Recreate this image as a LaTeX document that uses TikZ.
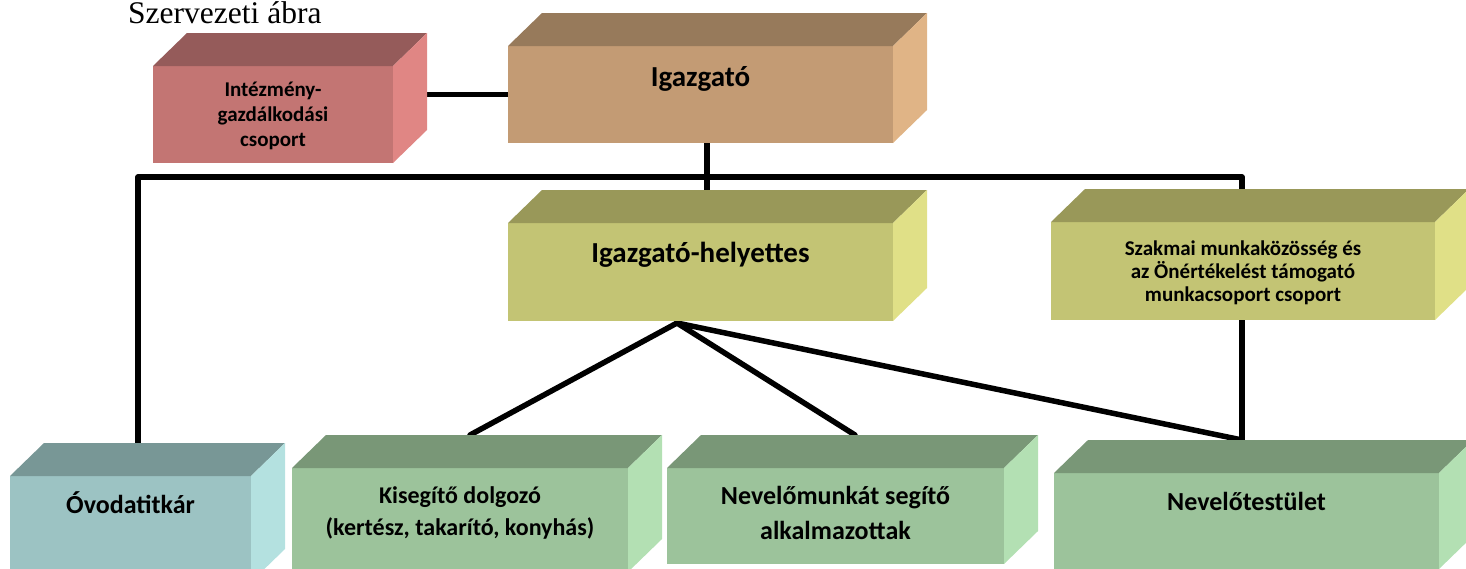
\documentclass[tikz,border=0pt]{standalone}
\usepackage{fontspec}
\setmainfont{Carlito}
\newfontfamily\titlefont{Liberation Serif}
\usetikzlibrary{calc,backgrounds}

\definecolor{redF}{RGB}{195,117,115}\definecolor{redT}{RGB}{149,91,90}\definecolor{redS}{RGB}{224,134,132}
\definecolor{brnF}{RGB}{195,155,116}\definecolor{brnT}{RGB}{151,122,91}\definecolor{brnS}{RGB}{224,180,134}
\definecolor{olvF}{RGB}{195,196,116}\definecolor{olvT}{RGB}{153,152,89}\definecolor{olvS}{RGB}{224,224,135}
\definecolor{cynF}{RGB}{156,195,195}\definecolor{cynT}{RGB}{120,151,150}\definecolor{cynS}{RGB}{180,225,224}
\definecolor{grnF}{RGB}{156,195,155}\definecolor{grnT}{RGB}{121,151,119}\definecolor{grnS}{RGB}{179,224,179}

\newcommand\cuboid[2]{%
  \fill[#2T] (#1.north west) -- ++(34,-33) -- ($(#1.north east)+(34,-33)$) -- (#1.north east) -- cycle;
  \fill[#2S] (#1.north east) -- ++(34,-33) -- ($(#1.south east)+(34,-33)$) -- (#1.south east) -- cycle;
}

\tikzset{
  front/.style={rectangle, inner sep=0pt, outer sep=0pt, draw=none},
  lbl/.style={inner sep=0pt, align=center, text=black},
  conn/.style={line width=5.5pt, draw=black, line cap=round, line join=round},
}

\begin{document}
\begin{tikzpicture}[x=1pt,y=-1pt]
\path[use as bounding box] (0,0) rectangle (1466,568);

% title
\node[inner sep=0pt, anchor=base west, font=\titlefont\fontsize{31.5}{36}\selectfont] (title) at (128,23.5) {Szervezeti ábra};

% front faces
\node[front, fill=redF, minimum width=240pt, minimum height=97pt] (intez) at (273,114.5) {};
\node[front, fill=brnF, minimum width=385pt, minimum height=97pt] (igaz) at (700.5,94.5) {};
\node[front, fill=olvF, minimum width=385pt, minimum height=98pt] (helyet) at (700.5,272) {};
\node[front, fill=olvF, minimum width=384pt, minimum height=98pt] (szak) at (1243,271) {};
\node[front, fill=cynF, minimum width=241pt, minimum height=106pt] (ovoda) at (130.5,529) {};
\node[front, fill=grnF, minimum width=336pt, minimum height=104pt] (kiseg) at (460,520) {};
\node[front, fill=grnF, minimum width=337pt, minimum height=96pt] (nevm) at (835.5,516) {};
\node[front, fill=grnF, minimum width=385pt, minimum height=96pt] (nevt) at (1246.5,521) {};

% top and side faces
\cuboid{intez}{red}
\cuboid{igaz}{brn}
\cuboid{helyet}{olv}
\cuboid{szak}{olv}
\cuboid{ovoda}{cyn}
\cuboid{kiseg}{grn}
\cuboid{nevm}{grn}
\cuboid{nevt}{grn}

% labels
\node[lbl, font=\bfseries\fontsize{21}{25}\selectfont] (intez-t) at (273,116) {Intézmény-\\gazdálkodási\\csoport};
\node[lbl, anchor=base, font=\bfseries\fontsize{29}{34}\selectfont] (igaz-t) at (700.5,86) {Igazgató};
\node[lbl, anchor=base, font=\bfseries\fontsize{29}{34}\selectfont] (helyet-t) at (700.5,262) {Igazgató-helyettes};
\node[lbl, font=\bfseries\fontsize{21}{23}\selectfont] (szak-t) at (1243,273) {Szakmai munkaközösség és\\az Önértékelést támogató\\munkacsoport csoport};
\node[lbl, anchor=base, font=\bfseries\fontsize{26}{30}\selectfont] (ovoda-t) at (130.5,513) {Óvodatitkár};
\node[lbl, font=\bfseries\fontsize{24}{32}\selectfont] (kiseg-t) at (460,513) {Kisegítő dolgozó\\(kertész, takarító, konyhás)};
\node[lbl, font=\bfseries\fontsize{26}{35}\selectfont] (nevm-t) at (835.5,513) {Nevelőmunkát segítő\\alkalmazottak};
\node[lbl, anchor=base, font=\bfseries\fontsize{26}{30}\selectfont] (nevt-t) at (1246.5,510) {Nevelőtestület};

% connector coordinates
\coordinate (intezR) at ($(intez.east)+(34,0)$);
\coordinate (hub) at (707,177);
\coordinate (lcorner) at (138,177);
\coordinate (rcorner) at (1242,177);
\coordinate (helyetB) at ($(helyet.north)+(34,-33)$);
\coordinate (szakB) at ($(szak.north)+(34,-33)$);
\coordinate (ovodaB) at ($(ovoda.north)+(34,-33)$);
\coordinate (nevtB) at ($(nevt.north)+(34,-33)$);
\coordinate (kisegB) at ($(kiseg.north)+(10,-33)$);
\coordinate (nevmB) at ($(nevm.north)+(19.5,-33)$);
\coordinate (apex) at ($(helyet.south)+(-23.5,2)$);

\begin{scope}[on background layer]
  \draw[conn] (intezR |- igaz.west) -- (igaz.west);
  \draw[conn] (igaz.south -| hub) -- (hub |- helyetB);
  \draw[conn] (lcorner |- ovodaB) -- (lcorner) -- (rcorner) -- (rcorner |- szakB);
  \draw[conn] (szak.south -| rcorner) -- (rcorner |- nevtB);
  \draw[conn] (apex) -- (kisegB);
  \draw[conn] (apex) -- (nevmB);
  \draw[conn] (apex) -- (rcorner |- nevtB);
\end{scope}
\end{tikzpicture}
\end{document}
